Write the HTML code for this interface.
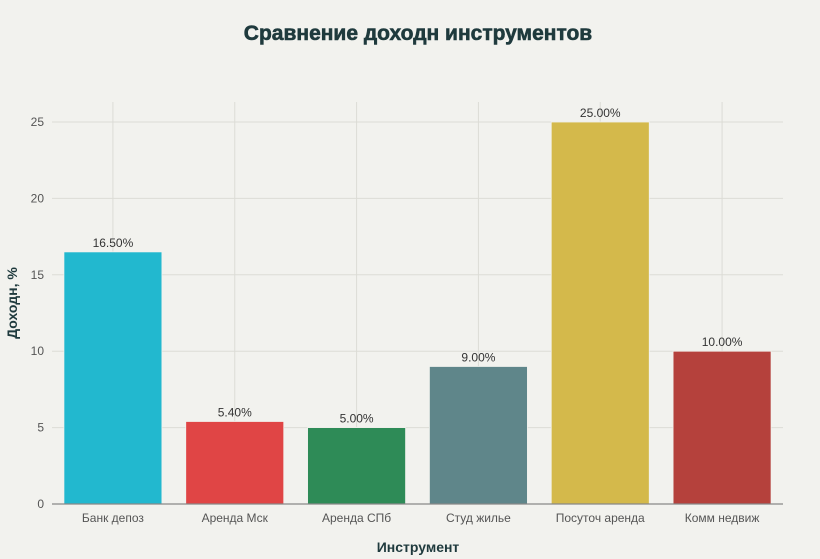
<!DOCTYPE html>
<html><head><meta charset="utf-8"><style>
body{margin:0;background:#f2f2ee;}
svg{display:block;font-family:"Liberation Sans","DejaVu Sans",sans-serif;}
</style></head><body>
<svg id="chart" width="820" height="559" viewBox="0 0 820 559">
<rect width="820" height="559" fill="#f2f2ee"/>
<text x="418" y="40" text-anchor="middle" font-size="21" font-weight="bold" fill="#1f3a3d" stroke="#1f3a3d" stroke-width="0.6">Сравнение доходн инструментов</text>
<text x="418" y="552" text-anchor="middle" font-size="14" font-weight="bold" fill="#1f3a3d">Инструмент</text>
<text transform="translate(17,303) rotate(-90)" text-anchor="middle" font-size="14" font-weight="bold" fill="#1f3a3d">Доходн, %</text>
<g id="grid"></g><g id="bars"></g><g id="axes"></g>
</svg>
<script>
const categories=["Банк депоз","Аренда Мск","Аренда СПб","Студ жилье","Посуточ аренда","Комм недвиж"];
const values=[16.5,5.4,5.0,9.0,25.0,10.0];
const valueLabels=["16.50%","5.40%","5.00%","9.00%","25.00%","10.00%"];
const colors=["#22b8cf","#e04545","#2e8b57","#5f868a","#d4b94b","#b5413c"];
const yTicks=[0,5,10,15,20,25];
const NS="http://www.w3.org/2000/svg";
const plotLeft=52,plotRight=783,plotTop=102,y0=504,yMax=25,y25=122;
const y=v=>y0-(y0-y25)*v/yMax;
const band=(plotRight-plotLeft)/categories.length;
const xc=i=>plotLeft+band*(i+0.5);
const bw=98;
function mk(t,a,p){const e=document.createElementNS(NS,t);for(const k in a)e.setAttribute(k,a[k]);p.appendChild(e);return e;}
const grid=document.getElementById('grid'),bars=document.getElementById('bars'),axes=document.getElementById('axes');
yTicks.forEach(t=>{
 const l=mk('line',{x1:plotLeft,x2:plotRight,y1:y(t),y2:y(t),stroke:'#dcdcd6','stroke-width':1},grid);
 
 
 const tx=mk('text',{x:44,y:y(t)+4,'text-anchor':'end','font-size':12,fill:'#555'},axes);
 tx.textContent=t;
 
 
});
categories.forEach((c,i)=>{
 const g=mk('line',{x1:xc(i),x2:xc(i),y1:plotTop,y2:y0,stroke:'#dcdcd6','stroke-width':1},grid);
 
 
 const r=mk('rect',{x:xc(i)-bw/2,y:y(values[i]),width:bw,height:y0-y(values[i]),fill:colors[i],stroke:'#f2f2ee','stroke-width':0.8},bars);
 
 
 const vl=mk('text',{x:xc(i),y:y(values[i])-5,'text-anchor':'middle','font-size':12,fill:'#333'},bars);
 vl.textContent=valueLabels[i];
 
 
 const cl=mk('text',{x:xc(i),y:522,'text-anchor':'middle','font-size':12,fill:'#555'},axes);
 cl.textContent=c;
 
 
});
const ax=mk('line',{x1:plotLeft,x2:plotRight,y1:y0,y2:y0,stroke:'#888','stroke-width':1.2},axes);


</script>
</body></html>
